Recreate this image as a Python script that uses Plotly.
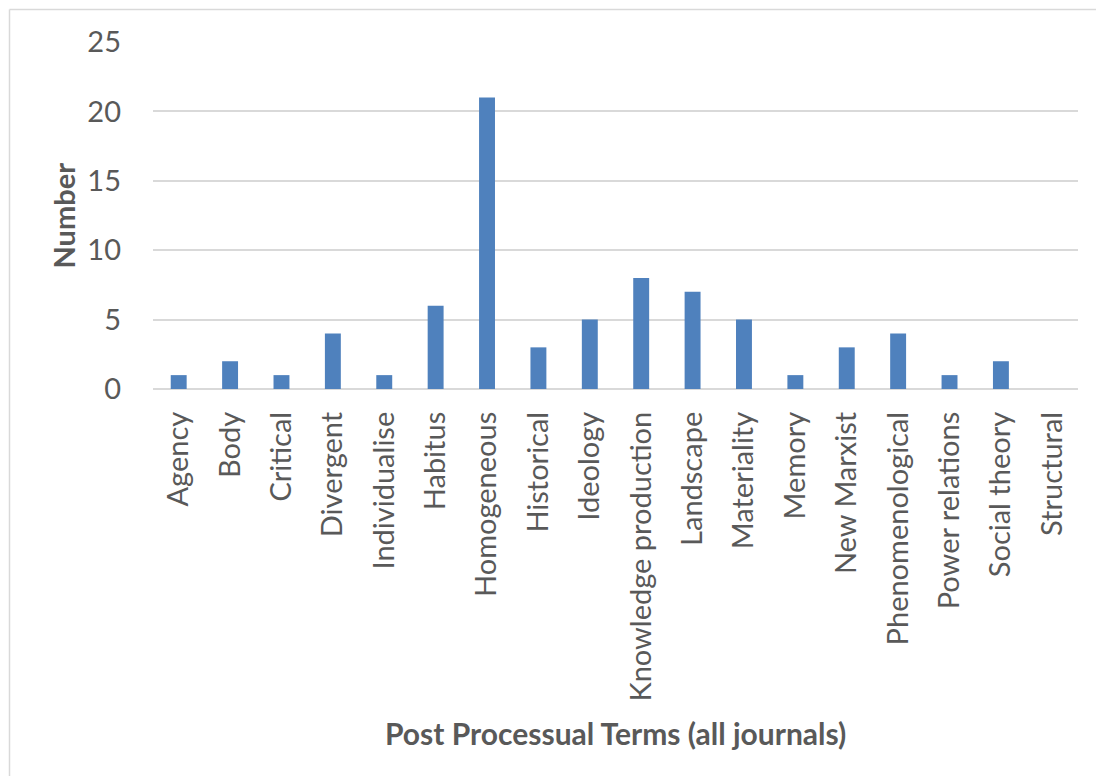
import plotly.graph_objects as go

# Post-processual term counts across all journals
terms = [
    "Agency", "Body", "Critical", "Divergent", "Individualise", "Habitus",
    "Homogeneous", "Historical", "Ideology", "Knowledge production",
    "Landscape", "Materiality", "Memory", "New Marxist", "Phenomenological",
    "Power relations", "Social theory", "Structural",
]
counts = [1, 2, 1, 4, 1, 6, 21, 3, 5, 8, 7, 5, 1, 3, 4, 1, 2, 0]
y_ticks = [0, 5, 10, 15, 20, 25]

W, H = 1096, 776
L, R, T, B = 153, 1078, 42, 389
TEXT = "#595959"
FONT = "Lato"

fig = go.Figure(
    go.Bar(
        x=terms,
        y=counts,
        marker=dict(color="#4F81BD", line=dict(width=0)),
    )
)

pw, ph = R - L, B - T

def px_x(p):
    return (p - L) / pw

def px_y(p):
    return (B - p) / ph

fig.update_layout(
    width=W,
    height=H,
    margin=dict(l=L, r=W - R, t=T, b=H - B, pad=0),
    paper_bgcolor="white",
    plot_bgcolor="white",
    bargap=0.69,
    showlegend=False,
    font=dict(family=FONT, color=TEXT),
    xaxis=dict(
        type="category",
        tickangle=-90,
        tickfont=dict(size=29, color=TEXT, family=FONT),
        showgrid=False,
        showline=False,
        ticks="",
        ticklabelstandoff=16,
        fixedrange=True,
    ),
    yaxis=dict(
        range=[0, 25],
        tickvals=y_ticks,
        tickfont=dict(size=29, color=TEXT, family=FONT),
        showgrid=True,
        gridcolor="#D9D9D9",
        gridwidth=1.5,
        zeroline=True,
        zerolinecolor="#D9D9D9",
        zerolinewidth=1.5,
        showline=False,
        ticks="",
        ticklabelstandoff=31,
        fixedrange=True,
    ),
    annotations=[
        dict(
            text="<b>Number</b>",
            xref="paper", yref="paper",
            x=px_x(63), y=0.5,
            xanchor="center", yanchor="middle",
            textangle=-90, showarrow=False,
            font=dict(size=29, color=TEXT, family=FONT),
        ),
        dict(
            text="<b>Post Processual Terms (all journals)</b>",
            xref="paper", yref="paper",
            x=0.5, y=px_y(733),
            xanchor="center", yanchor="middle",
            showarrow=False,
            font=dict(size=30, color=TEXT, family=FONT),
        ),
    ],
    shapes=[
        dict(type="line", xref="paper", yref="paper",
             x0=px_x(9.5), x1=px_x(W + 5), y0=px_y(9.5), y1=px_y(9.5),
             line=dict(color="#D9D9D9", width=1.5)),
        dict(type="line", xref="paper", yref="paper",
             x0=px_x(9.5), x1=px_x(9.5), y0=px_y(9.5), y1=px_y(H + 5),
             line=dict(color="#D9D9D9", width=1.5)),
    ],
)

fig.write_html("out.html")
